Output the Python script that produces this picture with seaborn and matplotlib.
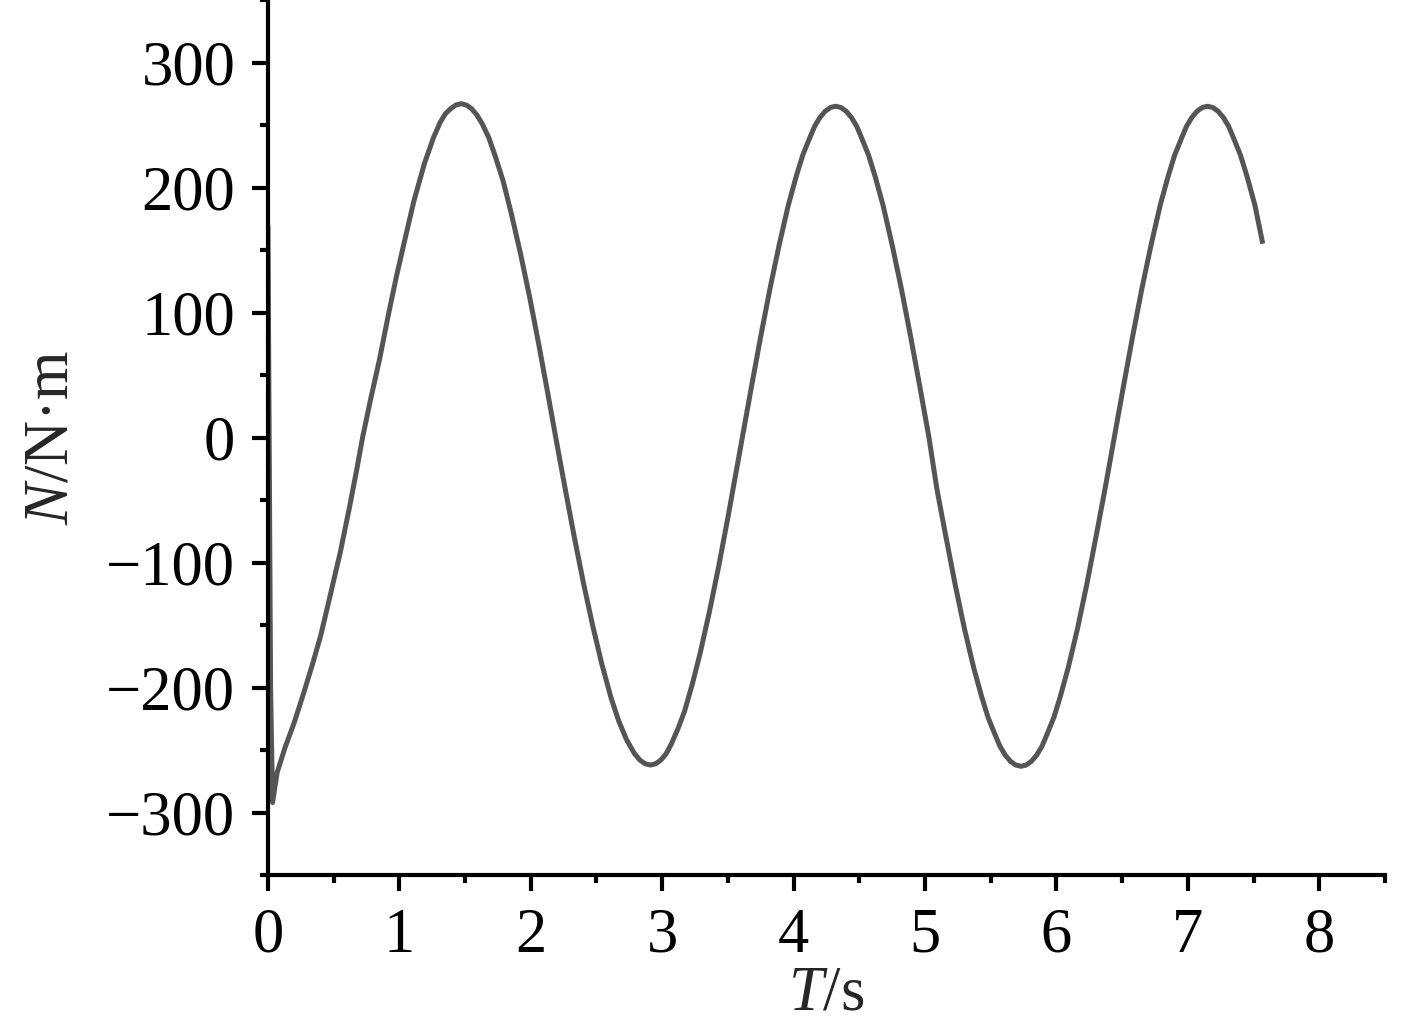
import numpy as np
import pandas as pd
import matplotlib
matplotlib.use("Agg")
import matplotlib.pyplot as plt
from matplotlib.ticker import MultipleLocator
import seaborn as sns

# time (s) and moment N (N·m)
t = [0.0, 0.02, 0.035, 0.07, 0.13, 0.20, 0.27, 0.34, 0.40, 0.47, 0.55, 0.62,
     0.675, 0.72, 0.78, 0.85, 0.92, 0.98, 1.05, 1.11, 1.19, 1.26, 1.31, 1.35,
     1.39, 1.43,
     1.47, 1.51, 1.55, 1.59, 1.63, 1.68, 1.73, 1.79, 1.85, 1.92, 1.99, 2.06,
     2.13, 2.19, 2.26, 2.33, 2.40, 2.47, 2.54, 2.61, 2.67, 2.73, 2.79, 2.83,
     2.87, 2.91, 2.95, 2.99, 3.03, 3.07, 3.12, 3.17, 3.23, 3.29, 3.36, 3.43,
     3.50, 3.56, 3.61, 3.68, 3.75, 3.82, 3.89, 3.96, 4.02, 4.07, 4.12, 4.16,
     4.20, 4.24, 4.28, 4.32, 4.36, 4.40, 4.44, 4.48, 4.52, 4.57, 4.62, 4.68,
     4.75, 4.82, 4.89, 4.96, 5.03, 5.09, 5.16, 5.23, 5.30, 5.37, 5.43, 5.48,
     5.53, 5.57, 5.61, 5.65, 5.69, 5.73, 5.77, 5.81, 5.85, 5.89, 5.93, 5.98,
     6.03, 6.09, 6.16, 6.23, 6.30, 6.37, 6.44, 6.51, 6.58, 6.65, 6.72, 6.79,
     6.85, 6.90, 6.95, 6.99, 7.03, 7.07, 7.11, 7.15, 7.19, 7.23, 7.27, 7.31,
     7.35, 7.40, 7.45, 7.51, 7.57]
N = [170, -200, -292, -268, -248, -228, -205, -181, -159, -128, -92, -56,
     -26, 0, 30, 63, 100, 130, 162, 189, 219, 240, 252, 259,
     263, 266,
     267, 266, 263, 258, 251, 240, 225, 205, 180, 148, 113, 75,
     35, 0, -40, -79, -116, -150, -181, -208, -227, -242, -253, -258,
     -261, -262, -261, -258, -253, -245, -233, -219, -197, -172, -139, -103,
     -64, -29, 0, 41, 81, 119, 154, 186, 209, 226, 239, 249,
     256, 261, 264, 265, 264, 261, 256, 249, 239, 226, 209, 186,
     154, 119, 81, 41, 0, -41, -80, -118, -153, -184, -207, -224,
     -237, -247, -254, -259, -262, -263, -262, -259, -254, -247, -237, -224,
     -207, -184, -153, -118, -80, -41, 0, 41, 81, 119, 154, 186,
     209, 226, 239, 249, 256, 261, 264, 265, 264, 261, 256, 249,
     239, 226, 209, 186, 155]

df = pd.DataFrame({"t": t, "N": N})

sns.set_theme(style="ticks")
plt.rcParams["font.family"] = ["Liberation Serif", "DejaVu Serif"]
plt.rcParams["mathtext.fontset"] = "custom"
plt.rcParams["mathtext.rm"] = "Liberation Serif"
plt.rcParams["mathtext.it"] = "Liberation Serif:italic"

fig = plt.figure(figsize=(14.17, 10.28), dpi=100)
ax = fig.add_axes([0.1891, 0.1488, 0.7883, 0.8512])

sns.lineplot(data=df, x="t", y="N", ax=ax, color="#555555", linewidth=3.6,
             sort=False, estimator=None)
ax.lines[0].set_solid_joinstyle("round")
ax.lines[0].set_solid_capstyle("butt")

ax.set_xlim(0, 8.5)
ax.set_ylim(-350, 350)
ax.xaxis.set_major_locator(MultipleLocator(1))
ax.xaxis.set_minor_locator(MultipleLocator(0.5))
ax.yaxis.set_major_locator(MultipleLocator(100))
ax.yaxis.set_minor_locator(MultipleLocator(50))

for side in ["top", "right"]:
    ax.spines[side].set_visible(False)
for side in ["left", "bottom"]:
    ax.spines[side].set_linewidth(3.0)
    ax.spines[side].set_color("black")

ax.tick_params(which="major", direction="out", length=11.5, width=3.0,
               labelsize=45, pad=12, colors="black")
ax.tick_params(which="minor", direction="out", length=6, width=3.0,
               colors="black")

ax.set_xticklabels([f"{v:g}" for v in ax.get_xticks()])
ax.set_yticklabels([f"{v:g}".replace("-", "\u2212") for v in ax.get_yticks()])

ax.set_xlabel(r"$T$/s", fontsize=45, labelpad=0)
ax.set_ylabel(r"$N$/N·m", fontsize=45, labelpad=18)

fig.savefig("out.png", dpi=100)
